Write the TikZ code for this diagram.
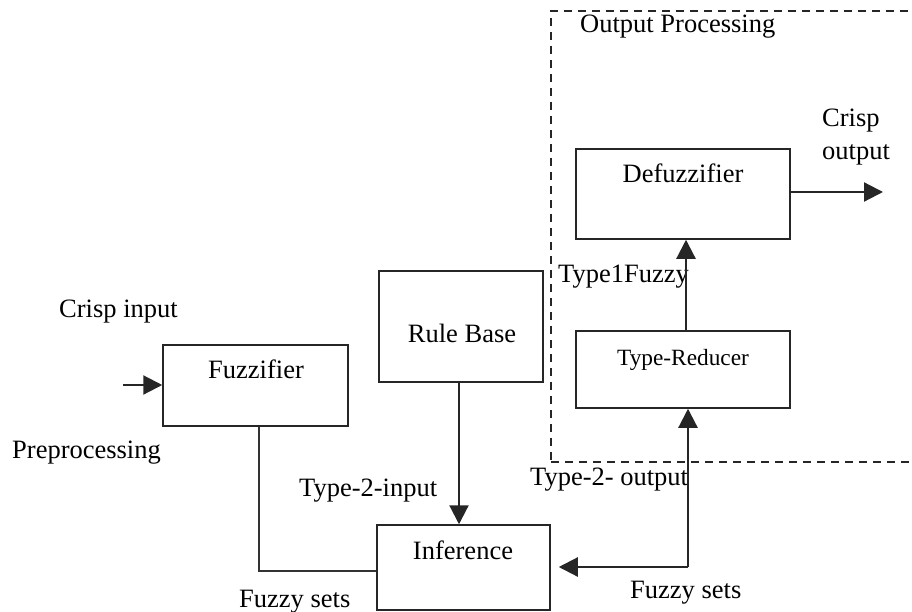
\documentclass[tikz,border=0pt]{standalone}
\usepackage{fontspec}
\setmainfont{Liberation Serif}
\usetikzlibrary{arrows.meta}
\begin{document}
\begin{tikzpicture}[x=1pt,y=-1pt,
  box/.style={draw=black!85,line width=1.5pt,rectangle,inner sep=0pt},
  lbl/.style={inner sep=0pt,font=\fontsize{26.5}{30}\selectfont},
  smalllbl/.style={inner sep=0pt,font=\fontsize{23.3}{28}\selectfont},
  arr/.style={line width=2.2pt,draw=black!85,-{Triangle[length=19pt,width=19pt]}},
  plain/.style={line width=1.6pt,draw=black!80},
  grp/.style={draw=black!85,line width=2.3pt,dash pattern=on 8pt off 6pt}]
\useasboundingbox (0,0) rectangle (912,612);
\clip (0,0) rectangle (912,612);
% group
\node[grp,rectangle,inner sep=0pt,minimum width=380pt,minimum height=451pt,anchor=north west] (grpbox) at (550,10) {};
\node[lbl,anchor=base west] (optxt) at (580,33) {Output Processing};
% boxes
\node[box,minimum width=185pt,minimum height=81pt] (fuzz) at (255.5,385.5) {};
\node[box,minimum width=164pt,minimum height=111pt] (rule) at (461,326.5) {};
\node[box,minimum width=173pt,minimum height=85pt] (inf) at (463.5,567.5) {};
\node[box,minimum width=214pt,minimum height=77pt] (tr) at (683,369.5) {};
\node[box,minimum width=214pt,minimum height=90pt] (def) at (683,194) {};
% box texts
\node[lbl,anchor=base] (fuzzt) at (256,378) {Fuzzifier};
\node[lbl,anchor=base] (rulet) at (462,342) {Rule Base};
\node[lbl,anchor=base] (inft) at (463,559) {Inference};
\node[smalllbl,anchor=base] (trt) at (683,365) {Type-Reducer};
\node[lbl,anchor=base] (deft) at (683,183) {Defuzzifier};
% free labels
\node[lbl,anchor=base west] (crispin) at (59,317) {Crisp input};
\node[lbl,anchor=base west] (prep) at (12,458) {Preprocessing};
\node[lbl,anchor=base west] (t2in) at (299,496) {Type-2-input};
\node[lbl,anchor=base west] (fs1) at (239,607) {Fuzzy sets};
\node[lbl,anchor=base west] (fs2) at (630,598) {Fuzzy sets};
\node[lbl,anchor=base west] (t2out) at (530,485) {Type-2- output};
\node[lbl,anchor=base west] (t1f) at (558,282) {Type1Fuzzy};
\node[lbl,anchor=base west] (crisp) at (822,127) {Crisp};
\node[lbl,anchor=base west] (outp) at (822,160) {output};
% coordinates
\coordinate (inpt) at (123,385);
\coordinate (c1) at (259,571);
\coordinate (c2) at (688,567);
\coordinate (c3) at (459,400);
\coordinate (c4) at (686,300);
\coordinate (outpt) at (883,192);
% connectors
\draw[arr] (inpt) -- (fuzz.west |- inpt);
\draw[plain] (fuzz.south -| c1) |- (inf.west |- c1);
\draw[arr] (rule.south -| c3) -- (inf.north -| c3);
\draw[arr] (c2) -- (tr.south -| c2);
\draw[arr,shorten >=8pt] (c2) -- (inf.east |- c2);
\draw[arr] (tr.north -| c4) -- (def.south -| c4);
\draw[arr] (def.east |- outpt) -- (outpt);
\end{tikzpicture}
\end{document}
